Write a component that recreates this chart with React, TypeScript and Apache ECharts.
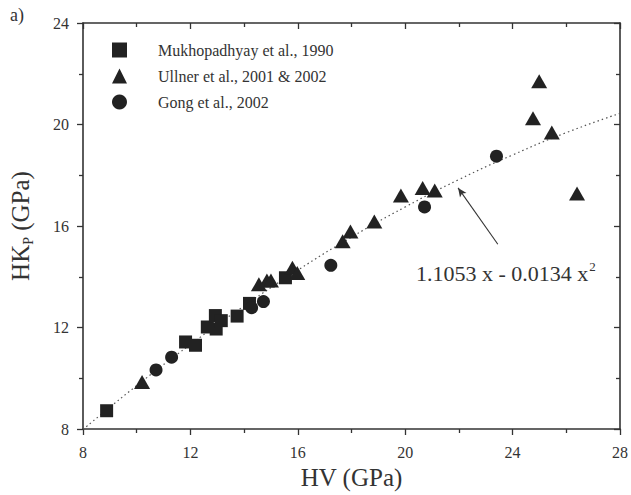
import React, { useEffect, useRef } from "react";
import * as echarts from "echarts";

const xTicks = [8, 12, 16, 20, 24, 28];
const yTicks = [8, 12, 16, 20, 24];

const mukhopadhyay: [number, number][] = [
  [8.88, 8.72], [11.82, 11.43], [12.19, 11.3], [12.63, 12.02], [12.93, 12.47],
  [12.96, 11.94], [13.15, 12.27], [13.74, 12.45], [14.2, 12.95], [15.54, 13.96],
];
const ullner: [number, number][] = [
  [10.2, 9.85], [14.55, 13.7], [14.85, 13.85], [15.0, 13.85], [15.8, 14.35],
  [15.98, 14.15], [17.67, 15.4], [17.96, 15.78], [18.85, 16.18], [19.84, 17.2],
  [20.65, 17.5], [21.1, 17.4], [24.76, 20.25], [24.99, 21.7], [25.46, 19.68],
  [26.4, 17.28],
];
const gong: [number, number][] = [
  [10.72, 10.33], [11.3, 10.83], [14.28, 12.78], [14.72, 13.02], [17.23, 14.45],
  [20.72, 16.75], [23.4, 18.75],
];
const fitCurve: [number, number][] = [
  [8, 7.98], [10, 9.71], [12, 11.33], [14, 12.85], [16, 14.26], [18, 15.56],
  [20, 16.75], [22, 17.83], [24, 18.8], [26, 19.68], [28, 20.44],
];
const seriesNames = ["Mukhopadhyay et al., 1990", "Ullner et al., 2001 & 2002", "Gong et al., 2002"];
const fitLabel = "1.1053 x - 0.0134 x";
const arrowFrom: [number, number] = [23.45, 15.28];
const arrowTo: [number, number] = [21.97, 17.5];

const FONT = "'Liberation Serif', 'Times New Roman', serif";
const INK = "#222";

export default function App() {
  const ref = useRef<HTMLDivElement>(null);
  useEffect(() => {
    if (!ref.current) return;
    const chart = echarts.init(ref.current, undefined, { renderer: "svg" });
    const axisLine = { show: true, lineStyle: { color: "#333", width: 1.6 } };
    const tickStyle = { color: "#333", width: 1.3 };
    chart.setOption({
      animation: false,
      backgroundColor: "#fff",
      textStyle: { fontFamily: FONT },
      grid: { left: 83, right: 4, top: 23, bottom: 65, containLabel: false },
      legend: {
        orient: "vertical",
        left: 107,
        top: 37,
        itemWidth: 15,
        itemHeight: 15,
        itemGap: 10,
        data: seriesNames,
        textStyle: { fontFamily: FONT, fontSize: 16, color: "#333", padding: [0, 0, 0, 26] },
      },
      xAxis: [
        {
          type: "value", min: 8, max: 28, interval: 4, position: "bottom",
          axisLine, splitLine: { show: false },
          axisTick: { show: true, inside: false, length: 6, lineStyle: tickStyle },
          minorTick: { show: true, splitNumber: 2, length: 4, lineStyle: tickStyle },
          axisLabel: { fontFamily: FONT, fontSize: 16, color: "#333", margin: 15,
            formatter: (v: number) => (xTicks.includes(v) ? String(v) : "") },
          name: "HV (GPa)", nameLocation: "middle", nameGap: 36,
          nameTextStyle: { fontFamily: FONT, fontSize: 25, color: "#333" },
        },
        {
          type: "value", min: 8, max: 28, interval: 4, position: "top",
          axisLine, splitLine: { show: false },
          axisTick: { show: true, inside: true, length: 6, lineStyle: tickStyle },
          minorTick: { show: true, splitNumber: 2, length: 4, lineStyle: tickStyle },
          axisLabel: { show: false },
        },
      ],
      yAxis: [
        {
          type: "value", min: 8, max: 24, interval: 4, position: "left",
          axisLine, splitLine: { show: false },
          axisTick: { show: true, inside: false, length: 6, lineStyle: tickStyle },
          minorTick: { show: true, splitNumber: 2, length: 4, lineStyle: tickStyle },
          axisLabel: { fontFamily: FONT, fontSize: 16, color: "#333", margin: 14,
            formatter: (v: number) => (yTicks.includes(v) ? String(v) : "") },
          name: "HK{sub|P} (GPa)", nameLocation: "middle", nameGap: 48,
          nameTextStyle: {
            fontFamily: FONT, fontSize: 25, color: "#333",
            rich: { sub: { fontFamily: FONT, fontSize: 14, color: "#333", verticalAlign: "bottom", padding: [15, 0, 0, 0] } },
          },
        },
        {
          type: "value", min: 8, max: 24, interval: 4, position: "right",
          axisLine, splitLine: { show: false },
          axisTick: { show: true, inside: true, length: 6, lineStyle: tickStyle },
          minorTick: { show: true, splitNumber: 2, length: 4, lineStyle: tickStyle },
          axisLabel: { show: false },
        },
      ],
      series: [
        {
          name: "fit", type: "line", data: fitCurve, smooth: true, symbol: "none",
          lineStyle: { color: "#555", width: 1.2, type: [1.5, 3] }, z: 1, silent: true,
          markLine: {
            silent: true,
            symbol: ["none", "arrow"],
            symbolSize: [6, 9],
            label: { show: false },
            lineStyle: { color: "#333", width: 1.1, type: "solid" },
            data: [[{ coord: arrowFrom }, { coord: arrowTo }]],
          },
        },
        {
          name: seriesNames[0], type: "scatter", data: mukhopadhyay, symbol: "rect", symbolSize: 13,
          itemStyle: { color: INK, opacity: 1 }, z: 3,
        },
        {
          name: seriesNames[1], type: "scatter", data: ullner, symbol: "triangle", symbolSize: [16, 14],
          itemStyle: { color: INK, opacity: 1 }, z: 3,
        },
        {
          name: seriesNames[2], type: "scatter", data: gong, symbol: "circle", symbolSize: 13,
          itemStyle: { color: INK, opacity: 1 }, z: 3,
        },
      ],
      graphic: [
        { type: "text", left: 10, top: 6, style: { text: "a)", fontFamily: FONT, fontSize: 18, fill: "#333" } },
        {
          type: "text", left: 416, top: 260,
          style: {
            text: fitLabel + "{sup|2}", fontFamily: FONT, fontSize: 22, fill: "#333",
            rich: { sup: { fontFamily: FONT, fontSize: 13, fill: "#333", verticalAlign: "top", padding: [0, 0, 14, 1] } },
          },
        },
      ],
    });
    return () => chart.dispose();
  }, []);
  return <div ref={ref} style={{ position: "absolute", left: 0, top: 0, width: 631, height: 495 }} />;
}
